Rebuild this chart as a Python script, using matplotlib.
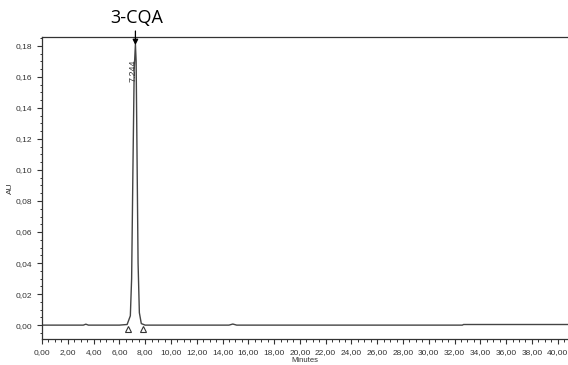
import numpy as np
import matplotlib.pyplot as plt
from matplotlib.ticker import MultipleLocator, FuncFormatter

# chromatogram trace (minutes, AU)
time_min = [0.0, 3.2, 3.4, 3.6, 6.0, 6.6, 6.85, 6.95, 7.05, 7.15, 7.244,
            7.3, 7.38, 7.45, 7.55, 7.7, 8.0, 14.5, 14.8, 15.1, 32.6, 32.7, 41.0]
absorb = [0.0, 0.0, 0.0006, 0.0, 0.0, 0.0004, 0.006, 0.03, 0.10, 0.165, 0.181,
          0.17, 0.10, 0.04, 0.008, 0.001, 0.0, 0.0, 0.0007, 0.0, 0.0, 0.0004, 0.0004]

peak_rt = 7.244
peak_name = "3-CQA"
marker_t = [6.7, 7.8]
marker_au = [-0.0025, -0.0025]

fig = plt.figure(figsize=(5.68, 3.65), dpi=100)
ax = fig.add_axes([0.074, 0.071, 0.926, 0.828])

ax.plot(time_min, absorb, color='#444444', linewidth=1.0)
ax.plot(marker_t, marker_au, linestyle='none', marker='^', markersize=5,
        markerfacecolor='white', markeredgecolor='#333333', markeredgewidth=0.8)

ax.text(peak_rt - 0.15, 0.164, f"{peak_rt:.3f}", rotation=90, fontsize=6.5,
        ha='center', va='center', color='#333333', family='Liberation Sans')

# compound name above the plot with an arrow down to the peak
fig.text(0.241, 0.95, peak_name, ha='center', va='center', fontsize=13,
         family='Open Sans')
ax.annotate("", xy=(peak_rt, 0.1805), xytext=(peak_rt, 0.915),
            textcoords=('data', 'figure fraction'), xycoords='data',
            arrowprops=dict(arrowstyle='-|>', color='black', lw=0.9,
                            mutation_scale=8, shrinkA=0, shrinkB=0),
            annotation_clip=False)

ax.set_xlim(0, 40.8)
ax.set_ylim(-0.009, 0.1858)

comma = FuncFormatter(lambda v, p: f"{v:.2f}".replace('.', ','))
ax.xaxis.set_major_locator(MultipleLocator(2))
ax.xaxis.set_minor_locator(MultipleLocator(0.5))
ax.yaxis.set_major_locator(MultipleLocator(0.02))
ax.yaxis.set_minor_locator(MultipleLocator(0.005))
ax.xaxis.set_major_formatter(comma)
ax.yaxis.set_major_formatter(comma)

ax.tick_params(which='major', length=3.5, width=0.8, labelsize=6, colors='#333333')
ax.tick_params(which='minor', length=1.8, width=0.7, colors='#333333')
for lab in ax.get_xticklabels() + ax.get_yticklabels():
    lab.set_family('Liberation Sans')

ax.spines['right'].set_visible(False)
for s in ['left', 'top', 'bottom']:
    ax.spines[s].set_linewidth(0.9)
    ax.spines[s].set_color('#333333')

ax.set_xlabel("Minutes", fontsize=5.5, family='Liberation Sans', color='#333333', labelpad=1)
ax.set_ylabel("AU", fontsize=6, family='Liberation Sans', color='#333333')
ax.yaxis.set_label_coords(-0.053, 0.5)

fig.savefig("out.png", dpi=100)
